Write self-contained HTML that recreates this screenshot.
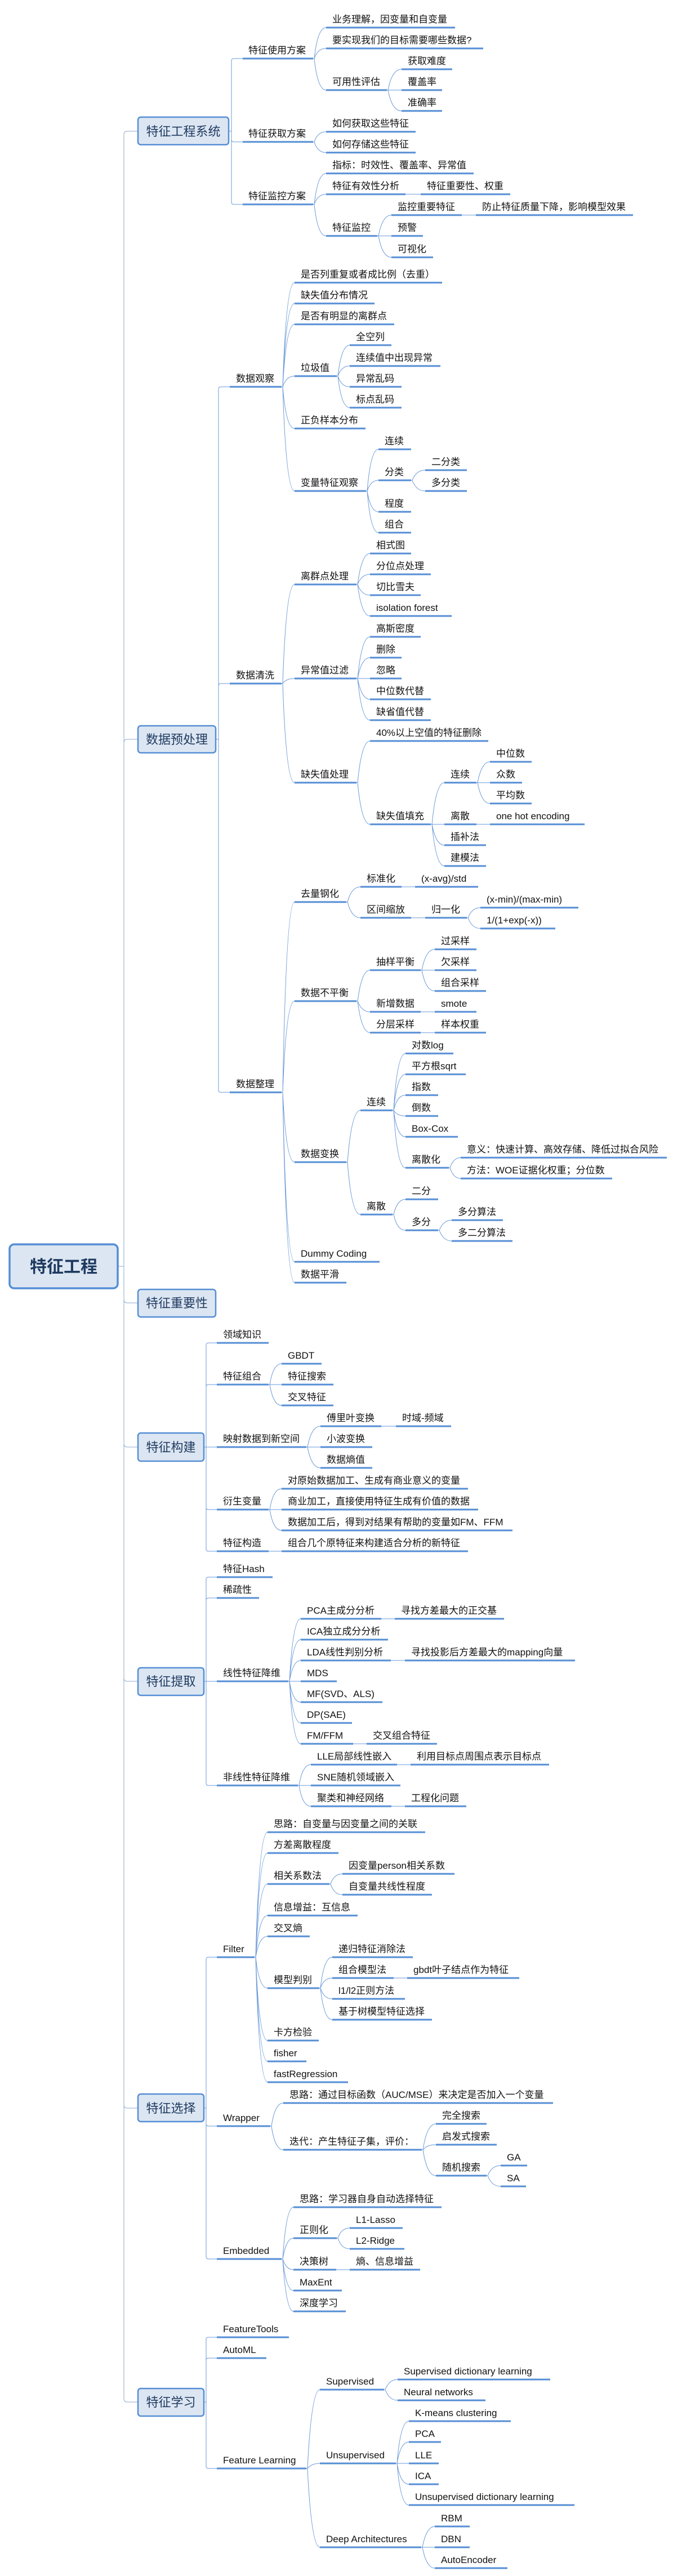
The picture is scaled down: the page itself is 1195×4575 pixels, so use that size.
<!DOCTYPE html>
<html><head><meta charset="utf-8"><style>
html,body{margin:0;padding:0;background:#fff}
svg{display:block}
text{font-family:"Liberation Sans","Noto Sans CJK SC",sans-serif;font-size:17px;fill:#111}
.u{stroke:#558ed5;stroke-width:3}
.c{fill:none;stroke:#6b9ad8;stroke-width:1}
.t{fill:none;stroke:#8fa9cc;stroke-width:1}
.bx{fill:#dce6f2;stroke:#558ed5;stroke-width:2.5}
.bt{font-size:22px;fill:#1f3a60;text-anchor:middle}
</style></head><body>
<svg width="1195" height="4575" viewBox="0 0 1195 4575" xmlns="http://www.w3.org/2000/svg">
<!-- trunk -->
<path class="t" d="M209 2249H220V239Q220 233 226 233H245"/>
<path class="t" d="M209 2249H220V1319Q220 1313 226 1313H245"/>
<path class="t" d="M209 2249H220V2308Q220 2314 226 2314H245"/>
<path class="t" d="M209 2249H220V2564Q220 2570 226 2570H245"/>
<path class="t" d="M209 2249H220V2980Q220 2986 226 2986H245"/>
<path class="t" d="M209 2249H220V3738Q220 3744 226 3744H245"/>
<path class="t" d="M209 2249H220V4260Q220 4266 226 4266H245"/>

<!-- root -->
<rect x="17" y="2210" width="192" height="78" rx="8" fill="#dce6f2" stroke="#558ed5" stroke-width="3.5"/>
<text x="113" y="2260" style="font-size:30px;font-weight:bold;fill:#1f3a60;text-anchor:middle">特征工程</text>

<!-- boxes -->
<rect class="bx" x="245" y="208" width="161" height="49" rx="5"/><text class="bt" x="325.5" y="241">特征工程系统</text>
<rect class="bx" x="245" y="1289" width="138" height="48" rx="5"/><text class="bt" x="314" y="1321">数据预处理</text>
<rect class="bx" x="245" y="2290" width="138" height="49" rx="5"/><text class="bt" x="314" y="2322">特征重要性</text>
<rect class="bx" x="245" y="2545" width="117" height="50" rx="5"/><text class="bt" x="303.5" y="2578">特征构建</text>
<rect class="bx" x="245" y="2962" width="117" height="49" rx="5"/><text class="bt" x="303.5" y="2994">特征提取</text>
<rect class="bx" x="245" y="3719" width="117" height="49" rx="5"/><text class="bt" x="303.5" y="3752">特征选择</text>
<rect class="bx" x="245" y="4242" width="117" height="49" rx="5"/><text class="bt" x="303.5" y="4274">特征学习</text>

<!-- level-2 elbows -->
<path class="c" d="M406 233H411V108Q411 104 415 104H431"/>
<path class="c" d="M406 233H411V248Q411 252 415 252H431"/>
<path class="c" d="M406 233H411V359Q411 363 415 363H431"/>

<path class="c" d="M383 1313H388V691Q388 687 392 687H408"/>
<path class="c" d="M383 1313H388V1218Q388 1214 392 1214H408"/>
<path class="c" d="M383 1313H388V1936Q388 1940 392 1940H408"/>

<path class="c" d="M362 2570H366V2389Q366 2385 370 2385H385"/>
<path class="c" d="M362 2570H366V2463Q366 2459 370 2459H385"/>
<path class="c" d="M362 2570H385"/>
<path class="c" d="M362 2570H366V2677Q366 2681 370 2681H385"/>
<path class="c" d="M362 2570H366V2751Q366 2755 370 2755H385"/>

<path class="c" d="M362 2986H366V2805Q366 2801 370 2801H385"/>
<path class="c" d="M362 2986H366V2842Q366 2838 370 2838H385"/>
<path class="c" d="M362 2986H385"/>
<path class="c" d="M362 2986H366V3167Q366 3171 370 3171H385"/>

<path class="c" d="M362 3744H366V3480Q366 3476 370 3476H385"/>
<path class="c" d="M362 3744H366V3772Q366 3776 370 3776H385"/>
<path class="c" d="M362 3744H366V4008Q366 4012 370 4012H385"/>

<path class="c" d="M362 4266H366V4155Q366 4151 370 4151H385"/>
<path class="c" d="M362 4266H366V4192Q366 4188 370 4188H385"/>
<path class="c" d="M362 4266H366V4380Q366 4384 370 4384H385"/>

<!-- curved connectors -->
<path class="c" d="M556 104H558Q564 49 579 49M556 104H558Q564 86 579 86M556 104H558Q564 160 579 160"/>
<path class="c" d="M687 160H689Q696 123 713 123M687 160H713M687 160H689Q696 197 713 197"/>
<path class="c" d="M556 252H558Q564 234 579 234M556 252H558Q564 271 579 271"/>
<path class="c" d="M556 363H558Q564 308 579 308M556 363H558Q564 345 579 345M556 363H558Q564 419 579 419"/>
<path class="c" d="M720 345H747M820 382H845"/>
<path class="c" d="M670 419H672Q679 382 695 382M670 419H695M670 419H672Q679 457 695 457"/>

<path class="c" d="M500 687H502Q508 502 523 502M500 687H502Q508 539 523 539M500 687H502Q508 576 523 576M500 687H502Q508 668 523 668M500 687H502Q508 761 523 761M500 687H502Q508 872 523 872"/>
<path class="c" d="M598 668H600Q606 613 621 613M598 668H600Q606 650 621 650M598 668H600Q606 687 621 687M598 668H600Q606 724 621 724"/>
<path class="c" d="M650 872H652Q658 798 672 798M650 872H652Q658 853 672 853M650 872H652Q658 909 672 909M650 872H652Q658 946 672 946"/>
<path class="c" d="M730 853H732Q739 835 755 835M730 853H732Q739 872 755 872"/>

<path class="c" d="M500 1214H502Q508 1038 523 1038M500 1214H502Q508 1205 523 1205M500 1214H502Q508 1390 523 1390"/>
<path class="c" d="M633 1038H635Q642 983 657 983M633 1038H635Q642 1020 657 1020M633 1038H635Q642 1057 657 1057M633 1038H635Q642 1094 657 1094"/>
<path class="c" d="M633 1205H635Q642 1131 657 1131M633 1205H635Q642 1168 657 1168M633 1205H657M633 1205H635Q642 1242 657 1242M633 1205H635Q642 1279 657 1279"/>
<path class="c" d="M633 1390H635Q642 1316 657 1316M633 1390H635Q642 1464 657 1464"/>
<path class="c" d="M765 1464H767Q774 1390 789 1390M765 1464H789M765 1464H767Q774 1501 789 1501M765 1464H767Q774 1538 789 1538"/>
<path class="c" d="M846 1390H848Q855 1353 870 1353M846 1390H870M846 1390H848Q855 1427 870 1427M846 1464H870"/>

<path class="c" d="M500 1940H502Q508 1602 523 1602M500 1940H502Q508 1778 523 1778M500 1940H502Q508 2064 523 2064M500 1940H502Q508 2241 523 2241M500 1940H502Q508 2278 523 2278"/>
<path class="c" d="M615 1602H617Q624 1575 640 1575M615 1602H617Q624 1630 640 1630M713 1575H737M730 1630H755"/>
<path class="c" d="M829 1630H831Q838 1612 853 1612M829 1630H831Q838 1649 853 1649"/>
<path class="c" d="M633 1778H635Q642 1723 657 1723M633 1778H635Q642 1797 657 1797M633 1778H635Q642 1834 657 1834"/>
<path class="c" d="M747 1723H749Q756 1686 772 1686M747 1723H772M747 1723H749Q756 1760 772 1760M747 1797H772M747 1834H772"/>
<path class="c" d="M615 2064H617Q624 1972 640 1972M615 2064H617Q624 2157 640 2157"/>
<path class="c" d="M697 1972H699Q705 1871 720 1871M697 1972H699Q705 1908 720 1908M697 1972H699Q705 1945 720 1945M697 1972H699Q705 1982 720 1982M697 1972H699Q705 2019 720 2019M697 1972H699Q705 2074 720 2074"/>
<path class="c" d="M797 2074H799Q805 2056 818 2056M797 2074H799Q805 2093 818 2093"/>
<path class="c" d="M697 2157H699Q705 2130 720 2130M697 2157H699Q705 2185 720 2185"/>
<path class="c" d="M778 2185H780Q787 2167 802 2167M778 2185H780Q787 2204 802 2204"/>

<path class="c" d="M477 2459H479Q485 2422 500 2422M477 2459H500M477 2459H479Q485 2496 500 2496"/>
<path class="c" d="M544 2570H546Q553 2533 569 2533M544 2570H569M544 2570H546Q553 2607 569 2607M677 2533H703"/>
<path class="c" d="M477 2681H479Q485 2644 500 2644M477 2681H500M477 2681H479Q485 2718 500 2718M477 2755H500"/>

<path class="c" d="M512 2986H514Q520 2875 534 2875M512 2986H514Q520 2912 534 2912M512 2986H514Q520 2949 534 2949M512 2986H534M512 2986H514Q520 3023 534 3023M512 2986H514Q520 3060 534 3060M512 2986H514Q520 3097 534 3097"/>
<path class="c" d="M677 2875H701M694 2949H719M627 3097H651"/>
<path class="c" d="M529 3171H531Q537 3134 552 3134M529 3171H552M529 3171H531Q537 3208 552 3208M705 3134H729M695 3208H719"/>

<path class="c" d="M452 3476H454Q460 3254 475 3254M452 3476H454Q460 3291 475 3291M452 3476H454Q460 3346 475 3346M452 3476H454Q460 3402 475 3402M452 3476H454Q460 3439 475 3439M452 3476H454Q460 3531 475 3531M452 3476H454Q460 3624 475 3624M452 3476H454Q460 3661 475 3661M452 3476H454Q460 3698 475 3698"/>
<path class="c" d="M585 3346H587Q593 3328 608 3328M585 3346H587Q593 3365 608 3365"/>
<path class="c" d="M567 3531H569Q575 3476 590 3476M567 3531H569Q575 3513 590 3513M567 3531H569Q575 3550 590 3550M567 3531H569Q575 3587 590 3587M699 3513H723"/>
<path class="c" d="M480 3776H482Q488 3735 503 3735M480 3776H482Q488 3818 503 3818"/>
<path class="c" d="M749 3818H751Q758 3772 774 3772M749 3818H751Q758 3809 774 3809M749 3818H751Q758 3864 774 3864"/>
<path class="c" d="M864 3864H866Q873 3846 889 3846M864 3864H866Q873 3883 889 3883"/>
<path class="c" d="M500 4012H502Q508 3920 521 3920M500 4012H502Q508 3975 521 3975M500 4012H502Q508 4031 521 4031M500 4012H502Q508 4068 521 4068M500 4012H502Q508 4105 521 4105"/>
<path class="c" d="M598 3975H600Q606 3957 621 3957M598 3975H600Q606 3994 621 3994M597 4031H621"/>

<path class="c" d="M544 4384H546Q553 4244 568 4244M544 4384H546Q553 4375 568 4375M544 4384H546Q553 4524 568 4524"/>
<path class="c" d="M682 4244H684Q691 4226 706 4226M682 4244H684Q691 4263 706 4263"/>
<path class="c" d="M703 4375H705Q711 4300 726 4300M703 4375H705Q711 4337 726 4337M703 4375H726M703 4375H705Q711 4412 726 4412M703 4375H705Q711 4449 726 4449"/>
<path class="c" d="M748 4524H750Q757 4487 772 4487M748 4524H772M748 4524H750Q757 4561 772 4561"/>

<!-- ===== Section A ===== -->
<line class="u" x1="431" y1="104" x2="556" y2="104"/><text x="441" y="95">特征使用方案</text>
<line class="u" x1="579" y1="49" x2="808" y2="49"/><text x="590" y="40">业务理解，因变量和自变量</text>
<line class="u" x1="579" y1="86" x2="858" y2="86"/><text x="590" y="77">要实现我们的目标需要哪些数据?</text>
<line class="u" x1="579" y1="160" x2="687" y2="160"/><text x="590" y="151">可用性评估</text>
<line class="u" x1="713" y1="123" x2="803" y2="123"/><text x="724" y="114">获取难度</text>
<line class="u" x1="713" y1="160" x2="785" y2="160"/><text x="724" y="151">覆盖率</text>
<line class="u" x1="713" y1="197" x2="785" y2="197"/><text x="724" y="188">准确率</text>
<line class="u" x1="431" y1="252" x2="556" y2="252"/><text x="441" y="243">特征获取方案</text>
<line class="u" x1="579" y1="234" x2="738" y2="234"/><text x="590" y="225">如何获取这些特征</text>
<line class="u" x1="579" y1="271" x2="738" y2="271"/><text x="590" y="262">如何存储这些特征</text>
<line class="u" x1="431" y1="363" x2="556" y2="363"/><text x="441" y="354">特征监控方案</text>
<line class="u" x1="579" y1="308" x2="841" y2="308"/><text x="590" y="299">指标：时效性、覆盖率、异常值</text>
<line class="u" x1="579" y1="345" x2="720" y2="345"/><text x="590" y="336">特征有效性分析</text>
<line class="u" x1="747" y1="345" x2="906" y2="345"/><text x="758" y="336">特征重要性、权重</text>
<line class="u" x1="579" y1="419" x2="670" y2="419"/><text x="590" y="410">特征监控</text>
<line class="u" x1="695" y1="382" x2="820" y2="382"/><text x="706" y="373">监控重要特征</text>
<line class="u" x1="845" y1="382" x2="1124" y2="382"/><text x="856" y="373">防止特征质量下降，影响模型效果</text>
<line class="u" x1="695" y1="419" x2="751" y2="419"/><text x="706" y="410">预警</text>
<line class="u" x1="695" y1="457" x2="769" y2="457"/><text x="706" y="448">可视化</text>

<!-- ===== Section B ===== -->
<line class="u" x1="408" y1="687" x2="500" y2="687"/><text x="419" y="678">数据观察</text>
<line class="u" x1="523" y1="502" x2="785" y2="502"/><text x="534" y="493">是否列重复或者成比例（去重）</text>
<line class="u" x1="523" y1="539" x2="665" y2="539"/><text x="534" y="530">缺失值分布情况</text>
<line class="u" x1="523" y1="576" x2="700" y2="576"/><text x="534" y="567">是否有明显的离群点</text>
<line class="u" x1="523" y1="668" x2="598" y2="668"/><text x="534" y="659">垃圾值</text>
<line class="u" x1="621" y1="613" x2="695" y2="613"/><text x="632" y="604">全空列</text>
<line class="u" x1="621" y1="650" x2="782" y2="650"/><text x="632" y="641">连续值中出现异常</text>
<line class="u" x1="621" y1="687" x2="713" y2="687"/><text x="632" y="678">异常乱码</text>
<line class="u" x1="621" y1="724" x2="713" y2="724"/><text x="632" y="715">标点乱码</text>
<line class="u" x1="523" y1="761" x2="649" y2="761"/><text x="534" y="752">正负样本分布</text>
<line class="u" x1="523" y1="872" x2="650" y2="872"/><text x="534" y="863">变量特征观察</text>
<line class="u" x1="672" y1="798" x2="730" y2="798"/><text x="683" y="789">连续</text>
<line class="u" x1="672" y1="853" x2="730" y2="853"/><text x="683" y="844">分类</text>
<line class="u" x1="755" y1="835" x2="829" y2="835"/><text x="766" y="826">二分类</text>
<line class="u" x1="755" y1="872" x2="829" y2="872"/><text x="766" y="863">多分类</text>
<line class="u" x1="672" y1="909" x2="730" y2="909"/><text x="683" y="900">程度</text>
<line class="u" x1="672" y1="946" x2="730" y2="946"/><text x="683" y="937">组合</text>

<line class="u" x1="408" y1="1214" x2="500" y2="1214"/><text x="419" y="1205">数据清洗</text>
<line class="u" x1="523" y1="1038" x2="633" y2="1038"/><text x="534" y="1029">离群点处理</text>
<line class="u" x1="657" y1="983" x2="730" y2="983"/><text x="668" y="974">相式图</text>
<line class="u" x1="657" y1="1020" x2="765" y2="1020"/><text x="668" y="1011">分位点处理</text>
<line class="u" x1="657" y1="1057" x2="747" y2="1057"/><text x="668" y="1048">切比雪夫</text>
<line class="u" x1="657" y1="1094" x2="802" y2="1094"/><text x="668" y="1085">isolation forest</text>
<line class="u" x1="523" y1="1205" x2="633" y2="1205"/><text x="534" y="1196">异常值过滤</text>
<line class="u" x1="657" y1="1131" x2="747" y2="1131"/><text x="668" y="1122">高斯密度</text>
<line class="u" x1="657" y1="1168" x2="713" y2="1168"/><text x="668" y="1159">删除</text>
<line class="u" x1="657" y1="1205" x2="713" y2="1205"/><text x="668" y="1196">忽略</text>
<line class="u" x1="657" y1="1242" x2="765" y2="1242"/><text x="668" y="1233">中位数代替</text>
<line class="u" x1="657" y1="1279" x2="765" y2="1279"/><text x="668" y="1270">缺省值代替</text>
<line class="u" x1="523" y1="1390" x2="633" y2="1390"/><text x="534" y="1381">缺失值处理</text>
<line class="u" x1="657" y1="1316" x2="867" y2="1316"/><text x="668" y="1307">40%以上空值的特征删除</text>
<line class="u" x1="657" y1="1464" x2="765" y2="1464"/><text x="668" y="1455">缺失值填充</text>
<line class="u" x1="789" y1="1390" x2="846" y2="1390"/><text x="800" y="1381">连续</text>
<line class="u" x1="870" y1="1353" x2="944" y2="1353"/><text x="881" y="1344">中位数</text>
<line class="u" x1="870" y1="1390" x2="927" y2="1390"/><text x="881" y="1381">众数</text>
<line class="u" x1="870" y1="1427" x2="944" y2="1427"/><text x="881" y="1418">平均数</text>
<line class="u" x1="789" y1="1464" x2="846" y2="1464"/><text x="800" y="1455">离散</text>
<line class="u" x1="870" y1="1464" x2="1038" y2="1464"/><text x="881" y="1455">one hot encoding</text>
<line class="u" x1="789" y1="1501" x2="863" y2="1501"/><text x="800" y="1492">插补法</text>
<line class="u" x1="789" y1="1538" x2="863" y2="1538"/><text x="800" y="1529">建模法</text>

<line class="u" x1="408" y1="1940" x2="500" y2="1940"/><text x="419" y="1931">数据整理</text>
<line class="u" x1="523" y1="1602" x2="615" y2="1602"/><text x="534" y="1593">去量钢化</text>
<line class="u" x1="640" y1="1575" x2="713" y2="1575"/><text x="651" y="1566">标准化</text>
<line class="u" x1="737" y1="1575" x2="849" y2="1575"/><text x="748" y="1566">(x-avg)/std</text>
<line class="u" x1="640" y1="1630" x2="730" y2="1630"/><text x="651" y="1621">区间缩放</text>
<line class="u" x1="755" y1="1630" x2="829" y2="1630"/><text x="766" y="1621">归一化</text>
<line class="u" x1="853" y1="1612" x2="1027" y2="1612"/><text x="864" y="1603">(x-min)/(max-min)</text>
<line class="u" x1="853" y1="1649" x2="986" y2="1649"/><text x="864" y="1640">1/(1+exp(-x))</text>
<line class="u" x1="523" y1="1778" x2="633" y2="1778"/><text x="534" y="1769">数据不平衡</text>
<line class="u" x1="657" y1="1723" x2="747" y2="1723"/><text x="668" y="1714">抽样平衡</text>
<line class="u" x1="772" y1="1686" x2="846" y2="1686"/><text x="783" y="1677">过采样</text>
<line class="u" x1="772" y1="1723" x2="846" y2="1723"/><text x="783" y="1714">欠采样</text>
<line class="u" x1="772" y1="1760" x2="863" y2="1760"/><text x="783" y="1751">组合采样</text>
<line class="u" x1="657" y1="1797" x2="747" y2="1797"/><text x="668" y="1788">新增数据</text>
<line class="u" x1="772" y1="1797" x2="846" y2="1797"/><text x="783" y="1788">smote</text>
<line class="u" x1="657" y1="1834" x2="747" y2="1834"/><text x="668" y="1825">分层采样</text>
<line class="u" x1="772" y1="1834" x2="863" y2="1834"/><text x="783" y="1825">样本权重</text>
<line class="u" x1="523" y1="2064" x2="615" y2="2064"/><text x="534" y="2055">数据变换</text>
<line class="u" x1="640" y1="1972" x2="697" y2="1972"/><text x="651" y="1963">连续</text>
<line class="u" x1="720" y1="1871" x2="805" y2="1871"/><text x="731" y="1862">对数log</text>
<line class="u" x1="720" y1="1908" x2="827" y2="1908"/><text x="731" y="1899">平方根sqrt</text>
<line class="u" x1="720" y1="1945" x2="778" y2="1945"/><text x="731" y="1936">指数</text>
<line class="u" x1="720" y1="1982" x2="778" y2="1982"/><text x="731" y="1973">倒数</text>
<line class="u" x1="720" y1="2019" x2="813" y2="2019"/><text x="731" y="2010">Box-Cox</text>
<line class="u" x1="720" y1="2074" x2="797" y2="2074"/><text x="731" y="2065">离散化</text>
<line class="u" x1="818" y1="2056" x2="1184" y2="2056"/><text x="829" y="2047">意义：快速计算、高效存储、降低过拟合风险</text>
<line class="u" x1="818" y1="2093" x2="1087" y2="2093"/><text x="829" y="2084">方法：WOE证据化权重；分位数</text>
<line class="u" x1="640" y1="2157" x2="697" y2="2157"/><text x="651" y="2148">离散</text>
<line class="u" x1="720" y1="2130" x2="778" y2="2130"/><text x="731" y="2121">二分</text>
<line class="u" x1="720" y1="2185" x2="778" y2="2185"/><text x="731" y="2176">多分</text>
<line class="u" x1="802" y1="2167" x2="893" y2="2167"/><text x="813" y="2158">多分算法</text>
<line class="u" x1="802" y1="2204" x2="910" y2="2204"/><text x="813" y="2195">多二分算法</text>
<line class="u" x1="523" y1="2241" x2="674" y2="2241"/><text x="534" y="2232">Dummy Coding</text>
<line class="u" x1="523" y1="2278" x2="615" y2="2278"/><text x="534" y="2269">数据平滑</text>

<!-- ===== Section D ===== -->
<line class="u" x1="385" y1="2385" x2="477" y2="2385"/><text x="396" y="2376">领域知识</text>
<line class="u" x1="385" y1="2459" x2="477" y2="2459"/><text x="396" y="2450">特征组合</text>
<line class="u" x1="500" y1="2422" x2="571" y2="2422"/><text x="511" y="2413">GBDT</text>
<line class="u" x1="500" y1="2459" x2="592" y2="2459"/><text x="511" y="2450">特征搜索</text>
<line class="u" x1="500" y1="2496" x2="592" y2="2496"/><text x="511" y="2487">交叉特征</text>
<line class="u" x1="385" y1="2570" x2="544" y2="2570"/><text x="396" y="2561">映射数据到新空间</text>
<line class="u" x1="569" y1="2533" x2="677" y2="2533"/><text x="580" y="2524">傅里叶变换</text>
<line class="u" x1="703" y1="2533" x2="801" y2="2533"/><text x="714" y="2524">时域-频域</text>
<line class="u" x1="569" y1="2570" x2="661" y2="2570"/><text x="580" y="2561">小波变换</text>
<line class="u" x1="569" y1="2607" x2="661" y2="2607"/><text x="580" y="2598">数据熵值</text>
<line class="u" x1="385" y1="2681" x2="477" y2="2681"/><text x="396" y="2672">衍生变量</text>
<line class="u" x1="500" y1="2644" x2="831" y2="2644"/><text x="511" y="2635">对原始数据加工、生成有商业意义的变量</text>
<line class="u" x1="500" y1="2681" x2="849" y2="2681"/><text x="511" y="2672">商业加工，直接使用特征生成有价值的数据</text>
<line class="u" x1="500" y1="2718" x2="910" y2="2718"/><text x="511" y="2709">数据加工后，得到对结果有帮助的变量如FM、FFM</text>
<line class="u" x1="385" y1="2755" x2="477" y2="2755"/><text x="396" y="2746">特征构造</text>
<line class="u" x1="500" y1="2755" x2="831" y2="2755"/><text x="511" y="2746">组合几个原特征来构建适合分析的新特征</text>

<!-- ===== Section E ===== -->
<line class="u" x1="385" y1="2801" x2="484" y2="2801"/><text x="396" y="2792">特征Hash</text>
<line class="u" x1="385" y1="2838" x2="460" y2="2838"/><text x="396" y="2829">稀疏性</text>
<line class="u" x1="385" y1="2986" x2="512" y2="2986"/><text x="396" y="2977">线性特征降维</text>
<line class="u" x1="534" y1="2875" x2="677" y2="2875"/><text x="545" y="2866">PCA主成分分析</text>
<line class="u" x1="701" y1="2875" x2="895" y2="2875"/><text x="712" y="2866">寻找方差最大的正交基</text>
<line class="u" x1="534" y1="2912" x2="689" y2="2912"/><text x="545" y="2903">ICA独立成分分析</text>
<line class="u" x1="534" y1="2949" x2="694" y2="2949"/><text x="545" y="2940">LDA线性判别分析</text>
<line class="u" x1="719" y1="2949" x2="1021" y2="2949"/><text x="730" y="2940">寻找投影后方差最大的mapping向量</text>
<line class="u" x1="534" y1="2986" x2="598" y2="2986"/><text x="545" y="2977">MDS</text>
<line class="u" x1="534" y1="3023" x2="679" y2="3023"/><text x="545" y="3014">MF(SVD、ALS)</text>
<line class="u" x1="534" y1="3060" x2="625" y2="3060"/><text x="545" y="3051">DP(SAE)</text>
<line class="u" x1="534" y1="3097" x2="627" y2="3097"/><text x="545" y="3088">FM/FFM</text>
<line class="u" x1="651" y1="3097" x2="776" y2="3097"/><text x="662" y="3088">交叉组合特征</text>
<line class="u" x1="385" y1="3171" x2="529" y2="3171"/><text x="396" y="3162">非线性特征降维</text>
<line class="u" x1="552" y1="3134" x2="705" y2="3134"/><text x="563" y="3125">LLE局部线性嵌入</text>
<line class="u" x1="729" y1="3134" x2="975" y2="3134"/><text x="740" y="3125">利用目标点周围点表示目标点</text>
<line class="u" x1="552" y1="3171" x2="711" y2="3171"/><text x="563" y="3162">SNE随机领域嵌入</text>
<line class="u" x1="552" y1="3208" x2="695" y2="3208"/><text x="563" y="3199">聚类和神经网络</text>
<line class="u" x1="719" y1="3208" x2="828" y2="3208"/><text x="730" y="3199">工程化问题</text>

<!-- ===== Section F ===== -->
<line class="u" x1="385" y1="3476" x2="452" y2="3476"/><text x="396" y="3467">Filter</text>
<line class="u" x1="475" y1="3254" x2="755" y2="3254"/><text x="486" y="3245">思路：自变量与因变量之间的关联</text>
<line class="u" x1="475" y1="3291" x2="601" y2="3291"/><text x="486" y="3282">方差离散程度</text>
<line class="u" x1="475" y1="3346" x2="585" y2="3346"/><text x="486" y="3337">相关系数法</text>
<line class="u" x1="608" y1="3328" x2="807" y2="3328"/><text x="619" y="3319">因变量person相关系数</text>
<line class="u" x1="608" y1="3365" x2="767" y2="3365"/><text x="619" y="3356">自变量共线性程度</text>
<line class="u" x1="475" y1="3402" x2="635" y2="3402"/><text x="486" y="3393">信息增益：互信息</text>
<line class="u" x1="475" y1="3439" x2="550" y2="3439"/><text x="486" y="3430">交叉熵</text>
<line class="u" x1="475" y1="3531" x2="567" y2="3531"/><text x="486" y="3522">模型判别</text>
<line class="u" x1="590" y1="3476" x2="733" y2="3476"/><text x="601" y="3467">递归特征消除法</text>
<line class="u" x1="590" y1="3513" x2="699" y2="3513"/><text x="601" y="3504">组合模型法</text>
<line class="u" x1="723" y1="3513" x2="922" y2="3513"/><text x="734" y="3504">gbdt叶子结点作为特征</text>
<line class="u" x1="590" y1="3550" x2="719" y2="3550"/><text x="601" y="3541">l1/l2正则方法</text>
<line class="u" x1="590" y1="3587" x2="767" y2="3587"/><text x="601" y="3578">基于树模型特征选择</text>
<line class="u" x1="475" y1="3624" x2="566" y2="3624"/><text x="486" y="3615">卡方检验</text>
<line class="u" x1="475" y1="3661" x2="544" y2="3661"/><text x="486" y="3652">fisher</text>
<line class="u" x1="475" y1="3698" x2="618" y2="3698"/><text x="486" y="3689">fastRegression</text>
<line class="u" x1="385" y1="3776" x2="480" y2="3776"/><text x="396" y="3767">Wrapper</text>
<line class="u" x1="503" y1="3735" x2="982" y2="3735"/><text x="514" y="3726">思路：通过目标函数（AUC/MSE）来决定是否加入一个变量</text>
<line class="u" x1="503" y1="3818" x2="749" y2="3818"/><text x="514" y="3809">迭代：产生特征子集，评价：</text>
<line class="u" x1="774" y1="3772" x2="864" y2="3772"/><text x="785" y="3763">完全搜索</text>
<line class="u" x1="774" y1="3809" x2="882" y2="3809"/><text x="785" y="3800">启发式搜索</text>
<line class="u" x1="774" y1="3864" x2="864" y2="3864"/><text x="785" y="3855">随机搜索</text>
<line class="u" x1="889" y1="3846" x2="936" y2="3846"/><text x="900" y="3837">GA</text>
<line class="u" x1="889" y1="3883" x2="934" y2="3883"/><text x="900" y="3874">SA</text>
<line class="u" x1="385" y1="4012" x2="500" y2="4012"/><text x="396" y="4003">Embedded</text>
<line class="u" x1="521" y1="3920" x2="784" y2="3920"/><text x="532" y="3911">思路：学习器自身自动选择特征</text>
<line class="u" x1="521" y1="3975" x2="598" y2="3975"/><text x="532" y="3966">正则化</text>
<line class="u" x1="621" y1="3957" x2="715" y2="3957"/><text x="632" y="3948">L1-Lasso</text>
<line class="u" x1="621" y1="3994" x2="718" y2="3994"/><text x="632" y="3985">L2-Ridge</text>
<line class="u" x1="521" y1="4031" x2="597" y2="4031"/><text x="532" y="4022">决策树</text>
<line class="u" x1="621" y1="4031" x2="746" y2="4031"/><text x="632" y="4022">熵、信息增益</text>
<line class="u" x1="521" y1="4068" x2="607" y2="4068"/><text x="532" y="4059">MaxEnt</text>
<line class="u" x1="521" y1="4105" x2="614" y2="4105"/><text x="532" y="4096">深度学习</text>

<!-- ===== Section G ===== -->
<line class="u" x1="385" y1="4151" x2="513" y2="4151"/><text x="396" y="4142">FeatureTools</text>
<line class="u" x1="385" y1="4188" x2="473" y2="4188"/><text x="396" y="4179">AutoML</text>
<line class="u" x1="385" y1="4384" x2="544" y2="4384"/><text x="396" y="4375">Feature Learning</text>
<line class="u" x1="568" y1="4244" x2="682" y2="4244"/><text x="579" y="4235">Supervised</text>
<line class="u" x1="706" y1="4226" x2="977" y2="4226"/><text x="717" y="4217">Supervised dictionary learning</text>
<line class="u" x1="706" y1="4263" x2="862" y2="4263"/><text x="717" y="4254">Neural networks</text>
<line class="u" x1="568" y1="4375" x2="703" y2="4375"/><text x="579" y="4366">Unsupervised</text>
<line class="u" x1="726" y1="4300" x2="907" y2="4300"/><text x="737" y="4291">K-means clustering</text>
<line class="u" x1="726" y1="4337" x2="783" y2="4337"/><text x="737" y="4328">PCA</text>
<line class="u" x1="726" y1="4375" x2="779" y2="4375"/><text x="737" y="4366">LLE</text>
<line class="u" x1="726" y1="4412" x2="779" y2="4412"/><text x="737" y="4403">ICA</text>
<line class="u" x1="726" y1="4449" x2="1020" y2="4449"/><text x="737" y="4440">Unsupervised dictionary learning</text>
<line class="u" x1="568" y1="4524" x2="748" y2="4524"/><text x="579" y="4515">Deep Architectures</text>
<line class="u" x1="772" y1="4487" x2="834" y2="4487"/><text x="783" y="4478">RBM</text>
<line class="u" x1="772" y1="4524" x2="834" y2="4524"/><text x="783" y="4515">DBN</text>
<line class="u" x1="772" y1="4561" x2="901" y2="4561"/><text x="783" y="4552">AutoEncoder</text>
</svg>
</body></html>
